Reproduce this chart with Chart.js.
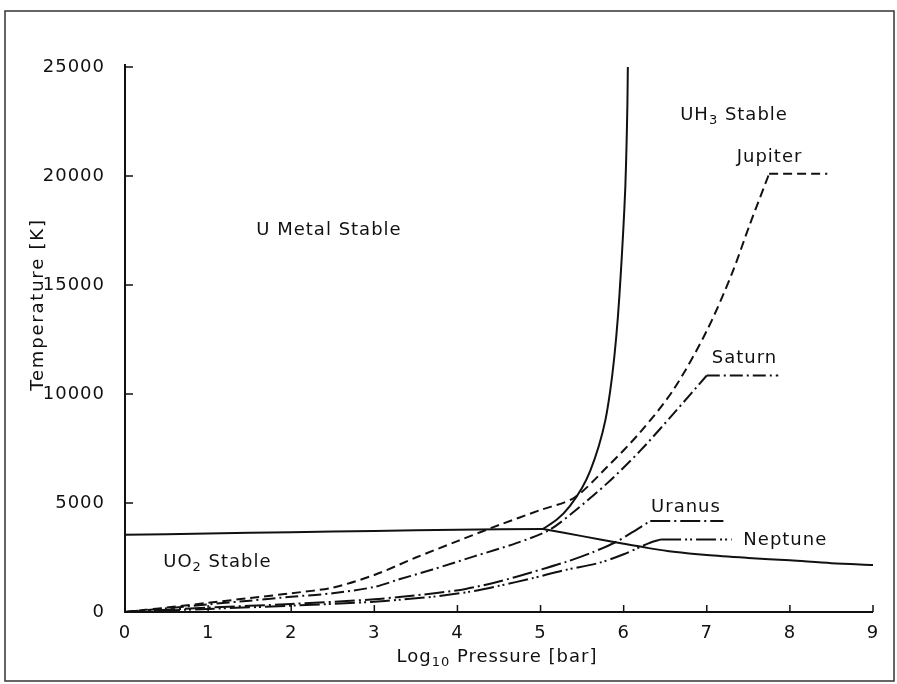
<!DOCTYPE html>
<html lang="en">
<head>
<meta charset="UTF-8">
<title>Uranium phase boundaries and planetary interiors</title>
<script src="https://cdn.jsdelivr.net/npm/chart.js"></script>
<style>
  html, body { margin: 0; padding: 0; background: #fff; }
  #wrap { position: relative; width: 897px; height: 684px; }
</style>
</head>
<body>
<div id="wrap"><canvas id="phaseChart"></canvas></div>
<script>
// ---- data (log10 pressure in bar, temperature in K) ----
const pressureTicks = [0, 1, 2, 3, 4, 5, 6, 7, 8, 9];
const temperatureTicks = [0, 5000, 10000, 15000, 20000, 25000];

// phase boundaries (solid)
const uo2MetalP = [0, 1, 2, 3, 4, 5.03];
const uo2MetalT = [3540, 3600, 3660, 3720, 3770, 3810];
const uo2HydrideP = [5.03, 5.5, 6.0, 6.3, 6.6, 7.0, 7.5, 8.0, 8.5, 9.0];
const uo2HydrideT = [3810, 3480, 3130, 2930, 2760, 2610, 2480, 2370, 2240, 2160];
const metalHydrideP = [5.03, 5.2, 5.35, 5.5, 5.6, 5.7, 5.78, 5.84, 5.89, 5.93, 5.965, 5.995, 6.02, 6.035, 6.045, 6.05];
const metalHydrideT = [3810, 4250, 4850, 5700, 6500, 7600, 8800, 10200, 11800, 13500, 15500, 17500, 19500, 21500, 23300, 25000];

// planetary interior profiles
const jupiterP = [0, 0.5, 1, 1.5, 2, 2.5, 3, 3.5, 4, 4.5, 5, 5.4, 5.8, 6.2, 6.6, 7.0, 7.3, 7.52, 7.75];
const jupiterT = [0, 200, 420, 640, 860, 1120, 1700, 2500, 3250, 3990, 4680, 5230, 6650, 8250, 10200, 12900, 15500, 17800, 20100];
const jupiterTailP = [7.75, 8.45];
const jupiterTailT = [20100, 20100];

const saturnP = [0, 0.5, 1, 1.5, 2, 2.5, 3, 3.3, 3.7, 4.2, 4.7, 5.1, 5.4, 5.8, 6.2, 6.6, 7.0];
const saturnT = [0, 170, 350, 520, 700, 860, 1150, 1500, 1950, 2550, 3150, 3750, 4600, 5900, 7400, 9100, 10850];
const saturnTailP = [7.0, 7.86];
const saturnTailT = [10850, 10850];

const uranusP = [0, 1, 2, 3, 3.3, 3.7, 4.1, 4.5, 4.9, 5.3, 5.6, 5.9, 6.1, 6.32];
const uranusT = [0, 200, 370, 580, 690, 850, 1060, 1400, 1830, 2290, 2700, 3200, 3650, 4180];
const uranusTailP = [6.32, 7.2];
const uranusTailT = [4180, 4180];

const neptuneP = [0, 1, 2, 3, 3.3, 3.7, 4.1, 4.5, 4.9, 5.3, 5.7, 6.0, 6.3, 6.45];
const neptuneT = [0, 140, 290, 470, 560, 700, 900, 1200, 1550, 1930, 2250, 2650, 3150, 3330];
const neptuneTailP = [6.45, 7.3];
const neptuneTailT = [3330, 3330];

function pts(xs, ys) {
    return xs.map((x, i) => ({ x: x, y: ys[i] }));
}

const ink = '#111';
const dashJupiter = [9, 5];
const dashSaturn = [13, 4, 2, 4];
const dashUranus = [20, 4, 2, 4];
const dashNeptune = [20, 4, 2, 3, 2, 4];

function line(label, data, dash, tension) {
    return {
        label: label,
        data: data,
        borderColor: ink,
        borderWidth: 2,
        borderDash: dash,
        pointRadius: 0,
        tension: tension,
        fill: false
    };
}

// in-plot text, placed in data units
const notes = [
    { parts: [{ t: 'U Metal Stable' }], x: 1.58, y: 17500 },
    { parts: [{ t: 'UH' }, { t: '3', sub: true }, { t: ' Stable' }], x: 6.68, y: 22800 },
    { parts: [{ t: 'Jupiter' }], x: 7.36, y: 20870 },
    { parts: [{ t: 'Saturn' }], x: 7.06, y: 11650 },
    { parts: [{ t: 'Uranus' }], x: 6.33, y: 4820 },
    { parts: [{ t: 'Neptune' }], x: 7.44, y: 3300 },
    { parts: [{ t: 'UO' }, { t: '2', sub: true }, { t: ' Stable' }], x: 0.46, y: 2300 }
];

const FONT = 'DejaVu Sans';

function drawRich(ctx, parts, x, y, align) {
    const widths = parts.map(p => {
        ctx.font = (p.sub ? 13 : 18) + 'px "' + FONT + '"';
        return ctx.measureText(p.t).width;
    });
    const total = widths.reduce((a, b) => a + b, 0);
    let cx = align === 'center' ? x - total / 2 : x;
    parts.forEach((p, i) => {
        ctx.font = (p.sub ? 13 : 18) + 'px "' + FONT + '"';
        ctx.fillText(p.t, cx, y + (p.sub ? 6 : 0));
        cx += widths[i];
    });
}

const paperPlugin = {
    id: 'paper',
    beforeDraw(chart) {
        const ctx = chart.ctx;
        ctx.save();
        ctx.fillStyle = '#fff';
        ctx.fillRect(0, 0, chart.width, chart.height);
        ctx.strokeStyle = '#333';
        ctx.lineWidth = 1.5;
        ctx.strokeRect(5, 11, 889, 670);
        ctx.restore();
        ctx.letterSpacing = '1px';
    },
    afterDraw(chart) {
        const ctx = chart.ctx;
        const xs = chart.scales.x, ys = chart.scales.y;
        const area = chart.chartArea;
        ctx.save();
        ctx.strokeStyle = ink;
        ctx.fillStyle = ink;
        ctx.lineWidth = 2;
        // axes
        ctx.beginPath();
        ctx.moveTo(area.left, area.top - 3);
        ctx.lineTo(area.left, area.bottom);
        ctx.lineTo(area.right, area.bottom);
        ctx.stroke();
        // inward ticks
        ctx.lineWidth = 1.5;
        ctx.beginPath();
        pressureTicks.forEach(v => {
            const px = xs.getPixelForValue(v);
            ctx.moveTo(px, area.bottom);
            ctx.lineTo(px, area.bottom - 7);
        });
        temperatureTicks.forEach(v => {
            const py = ys.getPixelForValue(v);
            ctx.moveTo(area.left, py);
            ctx.lineTo(area.left + 8, py);
        });
        ctx.stroke();

        ctx.letterSpacing = '1px';
        ctx.textBaseline = 'middle';
        ctx.textAlign = 'left';
        notes.forEach(n => {
            drawRich(ctx, n.parts, xs.getPixelForValue(n.x), ys.getPixelForValue(n.y), 'left');
        });

        // axis titles
        drawRich(ctx, [{ t: 'Log' }, { t: '10', sub: true }, { t: ' Pressure [bar]' }],
            (area.left + area.right) / 2 - 2, 657, 'center');
        ctx.save();
        ctx.translate(38, (area.top + area.bottom) / 2 - 35);
        ctx.rotate(-Math.PI / 2);
        ctx.letterSpacing = '1.8px';
        drawRich(ctx, [{ t: 'Temperature [K]' }], 0, 0, 'center');
        ctx.restore();
        ctx.restore();
    }
};

const chart = new Chart(document.getElementById('phaseChart'), {
    type: 'line',
    data: {
        datasets: [
            line('U / UO2 boundary', pts(uo2MetalP, uo2MetalT), [], 0.3),
            line('UO2 / UH3 boundary', pts(uo2HydrideP, uo2HydrideT), [], 0.3),
            line('U / UH3 boundary', pts(metalHydrideP, metalHydrideT), [], 0.3),
            line('Jupiter', pts(jupiterP, jupiterT), dashJupiter, 0.3),
            line('Jupiter core', pts(jupiterTailP, jupiterTailT), dashJupiter, 0),
            line('Saturn', pts(saturnP, saturnT), dashSaturn, 0.3),
            line('Saturn core', pts(saturnTailP, saturnTailT), dashSaturn, 0),
            line('Uranus', pts(uranusP, uranusT), dashUranus, 0.3),
            line('Uranus core', pts(uranusTailP, uranusTailT), dashUranus, 0),
            line('Neptune', pts(neptuneP, neptuneT), dashNeptune, 0.3),
            line('Neptune core', pts(neptuneTailP, neptuneTailT), dashNeptune, 0)
        ]
    },
    options: {
        responsive: true,
        maintainAspectRatio: false,
        animation: false,
        layout: { padding: { left: 0, top: 67, right: 24, bottom: 0 } },
        plugins: {
            legend: { display: false },
            tooltip: { enabled: false }
        },
        scales: {
            x: {
                type: 'linear',
                min: 0,
                max: 9,
                afterFit(scale) { scale.height = 72; },
                border: { display: false },
                grid: { display: false },
                ticks: {
                    stepSize: 1,
                    padding: 3,
                    color: ink,
                    font: { family: FONT, size: 18 },
                    callback: v => String(v)
                }
            },
            y: {
                type: 'linear',
                min: 0,
                max: 25000,
                afterFit(scale) { scale.width = 125; },
                border: { display: false },
                grid: { display: false },
                ticks: {
                    stepSize: 5000,
                    padding: 12,
                    color: ink,
                    font: { family: FONT, size: 18 },
                    callback: v => String(v)
                }
            }
        }
    },
    plugins: [paperPlugin]
});
</script>
</body>
</html>
